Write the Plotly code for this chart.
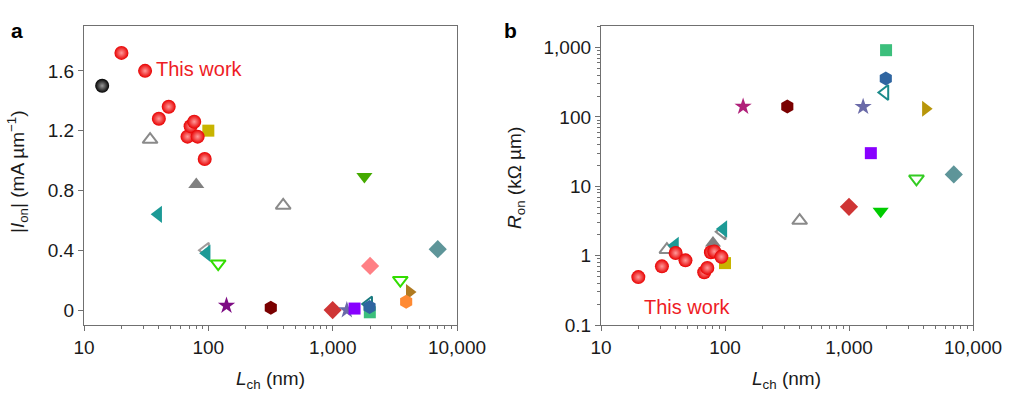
import plotly.graph_objects as go

# ---------------- data ----------------
# "This work" devices (red spheres)
tw_x = [20, 31, 40, 48, 68, 72, 77, 82, 93.5]
tw_ion = [1.72, 1.60, 1.28, 1.36, 1.16, 1.23, 1.26, 1.16, 1.01]
tw_ron = [0.49, 0.70, 1.09, 0.855, 0.575, 0.665, 1.12, 1.15, 0.96]

# literature series: x (nm), |Ion| (mA/um), Ron (kOhm um)
black_x = [14];        black_ion = [1.50]
gray_open_x = [34, 400];   gray_open_ion = [1.14, 0.70];  gray_open_ron = [1.22, 3.2]
yellow_x = [100];      yellow_ion = [1.20];   yellow_ron = [0.78]
gray_fill_x = [80];    gray_fill_ion = [0.84]; gray_fill_ron = [1.52]
teal_l_x = [39.5, 97]; teal_l_ion = [0.64, 0.38]; teal_l_ron = [1.40, 2.42]
grayl_x = [95];        grayl_ion = [0.40];    grayl_ron = [2.2]
gdown_open_x_a = [120, 3500]; gdown_open_ion = [0.31, 0.20]
gdown_open_x_b = [3500];      gdown_open_ron = [12.8]
star_x = [140];        star_ion = [0.03];     star_ron = [141]
hexr_x = [318];        hexr_ion = [0.015];    hexr_ron = [141]
dia_r_x = [1000];      dia_r_ion = [0.0];     dia_r_ron = [5.05]
star2_x = [1300];      star2_ion = [0.0];     star2_ron = [140]
psq_x = [1500];        psq_ion = [0.01];      psq_ron = [30]
tl_open_x = [1950];    tl_open_ion = [0.04];  tl_open_ron = [225]
gsq_x = [1990];        gsq_ion = [-0.015];    gsq_ron = [915]
bhex_x = [1980];       bhex_ion = [0.02];     bhex_ron = [358]
gold_x = [4150];       gold_ion = [0.12];     gold_ron = [131]
ohex_x = [3900];       ohex_ion = [0.056]
pdia_x = [2000];       pdia_ion = [0.295]
sdia_x = [7000];       sdia_ion = [0.407];    sdia_ron = [14.8]
gdown_x = [1800];      gdown_ion = [0.893];   gdown_ron = [4.36]

x_tickvals = [10, 100, 1000, 10000]
x_ticktext = ["10", "100", "1,000", "10,000"]
ya_tickvals = [0, 0.4, 0.8, 1.2, 1.6]
ya_ticktext = ["0", "0.4", "0.8", "1.2", "1.6"]
yb_tickvals = [0.1, 1, 10, 100, 1000]
yb_ticktext = ["0.1", "1", "10", "100", "1,000"]

FONT = "Liberation Sans, Arial, sans-serif"

fig = go.Figure()


def add(x, y, symbol, color, size, panel, open_=False, line_w=2, gradient=None):
    xa, ya = ("x", "y") if panel == "a" else ("x2", "y2")
    marker = dict(symbol=symbol + ("-open" if open_ else ""), size=size, color=color)
    if open_:
        marker["line"] = dict(color=color, width=line_w)
    else:
        marker["line"] = dict(width=0)
    if gradient:
        marker["gradient"] = dict(type="radial", color=gradient)
    fig.add_trace(go.Scatter(x=x, y=y, mode="markers", marker=marker,
                             xaxis=xa, yaxis=ya, showlegend=False, hoverinfo="skip"))


# ----- panel a -----
add(gray_open_x, gray_open_ion, "triangle-up", "#8a8a8a", 13, "a", open_=True)
add(grayl_x, grayl_ion, "triangle-left", "#a09a9a", 13, "a", open_=True)
add(gray_fill_x, gray_fill_ion, "triangle-up", "#808080", 14, "a")
add(teal_l_x, teal_l_ion, "triangle-left", "#1c9a96", 15, "a")
add(gdown_open_x_a, gdown_open_ion, "triangle-down", "#33dd00", 13, "a", open_=True)
add(star_x, star_ion, "star", "#7e0d84", 13, "a")
add(hexr_x, hexr_ion, "hexagon", "#7a0000", 14, "a")
add(pdia_x, pdia_ion, "diamond", "#ff8085", 14, "a")
add(sdia_x, sdia_ion, "diamond", "#5e9599", 14, "a")
add(gdown_x, gdown_ion, "triangle-down", "#44aa00", 14, "a")
add(gold_x, gold_ion, "triangle-right", "#b07a20", 14, "a")
add(ohex_x, ohex_ion, "hexagon", "#ff8a33", 14, "a")
add(tl_open_x, tl_open_ion, "triangle-left", "#1a7a80", 13, "a", open_=True)
add(gsq_x, gsq_ion, "square", "#3cbf7c", 12, "a")
add(bhex_x, bhex_ion, "hexagon", "#2f65a0", 14, "a")
add(dia_r_x, dia_r_ion, "diamond", "#cf3535", 14, "a")
add(star2_x, star2_ion, "star", "#6a6aa8", 13, "a")
add(psq_x, psq_ion, "square", "#8800ff", 12, "a")
add(yellow_x, yellow_ion, "square", "#c8b400", 12, "a")
add(black_x, black_ion, "circle", "#000000", 14, "a", gradient="#9a9a9a")
add(tw_x, tw_ion, "circle", "#e80000", 14, "a", gradient="#ff9a9a")

# ----- panel b -----
add(gray_open_x, gray_open_ron, "triangle-up", "#8a8a8a", 13, "b", open_=True)
add(grayl_x, grayl_ron, "triangle-left", "#8a8a8a", 13, "b", open_=True)
add(gray_fill_x, gray_fill_ron, "triangle-up", "#808080", 14, "b")
add(teal_l_x, teal_l_ron, "triangle-left", "#1c9a96", 15, "b")
add(gdown_open_x_b, gdown_open_ron, "triangle-down", "#33cc22", 13, "b", open_=True)
add(star_x, star_ron, "star", "#b0207a", 13, "b")
add(hexr_x, hexr_ron, "hexagon", "#7a0000", 14, "b")
add(sdia_x, sdia_ron, "diamond", "#5e9599", 14, "b")
add(gdown_x, gdown_ron, "triangle-down", "#00cc00", 14, "b")
add(gold_x, gold_ron, "triangle-right", "#b8960a", 14, "b")
add(tl_open_x, tl_open_ron, "triangle-left", "#1a8a8a", 13, "b", open_=True)
add(gsq_x, gsq_ron, "square", "#3cbf7c", 12, "b")
add(bhex_x, bhex_ron, "hexagon", "#2f65a0", 14, "b")
add(dia_r_x, dia_r_ron, "diamond", "#cf3535", 14, "b")
add(star2_x, star2_ron, "star", "#6a6aa8", 13, "b")
add(psq_x, psq_ron, "square", "#8800ff", 12, "b")
add(yellow_x, yellow_ron, "square", "#c8b400", 12, "b")
add(tw_x, tw_ron, "circle", "#e80000", 14, "b", gradient="#ff9a9a")

H = 395
W = 1024
ydom = [1 - 325 / H, 1 - 26 / H]

axis_common = dict(showline=True, linecolor="#707070", linewidth=1.3, mirror=True,
                   ticks="outside", ticklen=5, tickcolor="#707070", tickwidth=1.2,
                   showgrid=False, zeroline=False, automargin=False,
                   tickfont=dict(family=FONT, size=19, color="#1a1a1a"))
minor_log = dict(ticks="outside", ticklen=3, tickcolor="#707070", tickwidth=1, dtick="D1", showgrid=False)

fig.update_layout(
    width=W, height=H, autosize=False,
    margin=dict(l=0, r=0, t=0, b=0, pad=0, autoexpand=False),
    paper_bgcolor="white", plot_bgcolor="white",
    xaxis=dict(axis_common, type="log", range=[1, 4], domain=[84 / W, 457 / W],
               tickmode="array", tickvals=x_tickvals, ticktext=x_ticktext, minor=minor_log,
               anchor="y"),
    yaxis=dict(axis_common, range=[-0.1, 1.9], domain=ydom,
               tickmode="array", tickvals=ya_tickvals, ticktext=ya_ticktext, anchor="x"),
    xaxis2=dict(axis_common, type="log", range=[1, 4], domain=[601 / W, 973 / W],
                tickmode="array", tickvals=x_tickvals, ticktext=x_ticktext, minor=minor_log,
                anchor="y2"),
    yaxis2=dict(axis_common, type="log", range=[-1, 3.31], domain=ydom,
                tickmode="array", tickvals=yb_tickvals, ticktext=yb_ticktext, minor=minor_log,
                anchor="x2"),
)

tf = dict(family=FONT, size=19, color="#1a1a1a")
ann = [
    dict(text="<b>a</b>", x=9 / W, y=1 - 17 / H, xref="paper", yref="paper",
         showarrow=False, font=dict(family=FONT, size=21, color="black")),
    dict(text="<b>b</b>", x=510 / W, y=1 - 17 / H, xref="paper", yref="paper",
         showarrow=False, font=dict(family=FONT, size=21, color="black")),
    dict(text="<i>L</i><sub>ch</sub> (nm)", x=270 / W, y=1 - 380 / H, xref="paper", yref="paper",
         showarrow=False, font=tf, xanchor="center", yanchor="middle"),
    dict(text="<i>L</i><sub>ch</sub> (nm)", x=786 / W, y=1 - 380 / H, xref="paper", yref="paper",
         showarrow=False, font=tf, xanchor="center", yanchor="middle"),
    dict(text="|<i>I</i><sub>on</sub>| (mA µm<sup>−1</sup>)", x=17 / W, y=1 - 172 / H,
         xref="paper", yref="paper", textangle=-90, showarrow=False, font=tf,
         xanchor="center", yanchor="middle"),
    dict(text="<i>R</i><sub>on</sub> (kΩ µm)", x=516 / W, y=1 - 178 / H,
         xref="paper", yref="paper", textangle=-90, showarrow=False, font=tf,
         xanchor="center", yanchor="middle"),
    dict(text="This work", x=1.563, y=1.615, xref="x", yref="y", xanchor="left",
         yanchor="middle", showarrow=False, font=dict(family=FONT, size=20, color="#ee1c25")),
    dict(text="This work", x=1.694, y=-0.736, xref="x2", yref="y2", xanchor="center",
         yanchor="middle", showarrow=False, font=dict(family=FONT, size=20, color="#ee1c25")),
]
fig.update_layout(annotations=ann)

fig.write_html(
    "out.html",
    config={"displayModeBar": False},
    post_script="document.body.style.margin='0px';document.body.style.padding='0px';"
                "document.body.style.overflow='hidden';",
)
